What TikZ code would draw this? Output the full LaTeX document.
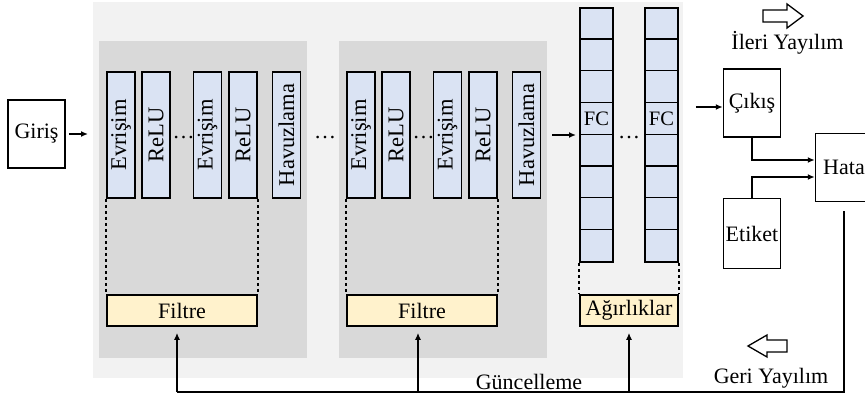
\documentclass[tikz,border=0pt]{standalone}
\usepackage{fontspec}
\setmainfont{Liberation Serif}
\usetikzlibrary{positioning,calc,arrows.meta}

\definecolor{outerbg}{HTML}{F2F2F2}
\definecolor{panelbg}{HTML}{D9D9D9}
\definecolor{layerblue}{HTML}{DAE3F3}
\definecolor{paramyellow}{HTML}{FFF2CC}

\begin{document}
\begin{tikzpicture}[x=1pt, y=-1pt,
  txt/.style={font=\fontsize{22}{22}\selectfont, inner sep=0pt},
  box/.style={txt, draw, line width=1.5pt, fill=white, minimum width=57pt, minimum height=68pt},
  layer/.style={draw, line width=1.6pt, fill=layerblue, rotate=90, inner sep=0pt,
    minimum width=126pt, minimum height=28pt, font=\fontsize{22.5}{22.5}\selectfont},
  param/.style={txt, draw, line width=1.6pt, fill=paramyellow, minimum height=31pt},
  fccol/.style={draw, line width=1.6pt, fill=layerblue, minimum width=33pt, minimum height=254pt},
  dotline/.style={line width=2pt, dash pattern=on 3pt off 3pt},
  line/.style={line width=1.4pt},
  arr/.style={line, -{Latex[length=7pt,width=6pt]}}]
  \useasboundingbox (0,0) rectangle (865,398);
  \fill[outerbg] (93,2) rectangle (683,378);

  \node[box] (giris) at (36.5,134) {Giriş};
  \coordinate (inpt) at (88,134);
  \draw[arr, shorten <=3pt] (giris.east) -- (inpt);

  \foreach \k/\dx in {1/0,2/240} {
    \fill[panelbg] (99+\dx,41) rectangle (307+\dx,358);
    \node[layer] (ev\k a) at (121+\dx,135) {Evrişim};
    \node[layer] (relu\k a) at (156+\dx,135) {ReLU};
    \node[txt] (dots\k) at (183.5+\dx,138) {\ldots};
    \node[layer] (ev\k b) at (207.5+\dx,135) {Evrişim};
    \node[layer] (relu\k b) at (243+\dx,135) {ReLU};
    \node[layer] (hav\k) at (286.5+\dx,135) {Havuzlama};
    \node[param, minimum width=150pt] (filtre\k) at (182+\dx,310.5) {Filtre};
    \draw[dotline] (ev\k a.north west) -- (filtre\k.north west);
    \draw[dotline] (relu\k b.south west) -- (filtre\k.north east);
  }
  \node[txt] (dotsmid) at (325,138) {\ldots};
  \draw[arr, shorten <=11pt, shorten >=4pt] (hav2.south) -- (hav2.south -| 580,0);

  \node[fccol] (fc1) at (596.5,135) {};
  \node[fccol] (fc2) at (661.5,135) {};
  \foreach \c in {fc1,fc2} {
    \foreach \i in {1,...,7}
      \draw[line width=1.3pt] ($(\c.north west)+(0,\i*31.75)$) -- ($(\c.north east)+(0,\i*31.75)$);
    \node[txt, font=\fontsize{20.5}{20.5}\selectfont] at ($(\c.north)+(0,111.5)$) {FC};
  }
  \node[txt] (dotsfc) at (629,138) {\ldots};
  \node[param, minimum width=98pt] (agir) at (629,310.5) {Ağırlıklar};
  \draw[dotline] (fc1.south west) -- (agir.north west);
  \draw[dotline] (fc2.south east) -- (agir.north east);

  \node[box] (cikis) at (752,103) {Çıkış};
  \node[box, minimum height=70pt, below=60pt of cikis] (etiket) {Etiket};
  \node[box] (hata) at (844,167.5) {Hata};
  \draw[arr, shorten <=17pt] ([yshift=-4pt]cikis.west -| fc2.east) -- ([yshift=-4pt]cikis.west);
  \draw[arr] (cikis.south) |- ([yshift=7.5pt]hata.west);
  \draw[arr] (etiket.north) |- ([yshift=-9.5pt]hata.west);

  \coordinate (upd) at (177,392);
  \draw[line, shorten <=9pt] (hata.south) |- (upd);
  \draw[arr, shorten >=6pt] (upd) -- (filtre1.south -| upd);
  \draw[arr, shorten >=6pt] ([xshift=-4pt]filtre2.south |- upd) -- ([xshift=-4pt]filtre2.south);
  \draw[arr, shorten >=6pt] (agir.south |- upd) -- (agir.south);
  \node[txt, anchor=base] (guncel) at (529,389) {Güncelleme};

  \node[txt, anchor=base] (ileri) at (787.5,50) {İleri Yayılım};
  \draw[line width=1.3pt, fill=white] (763,10) -- (787,10) -- (787,4) -- (803,16)
    -- (787,28) -- (787,22) -- (763,22) -- cycle;
  \node[txt, anchor=base] (geri) at (771,383) {Geri Yayılım};
  \draw[line width=1.3pt, fill=white] (787,340) -- (767,340) -- (767,335) -- (748,346)
    -- (767,357) -- (767,352) -- (787,352) -- cycle;
\end{tikzpicture}
\end{document}
